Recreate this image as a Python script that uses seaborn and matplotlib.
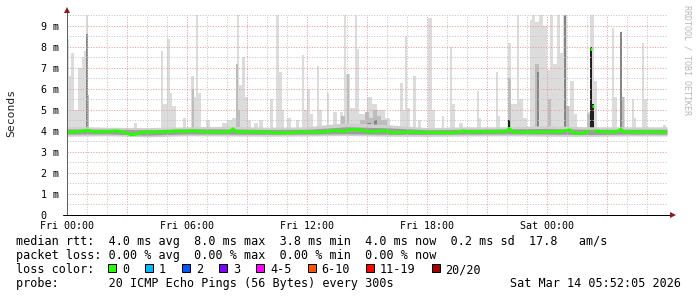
import matplotlib
matplotlib.use("Agg")
import matplotlib.pyplot as plt
from matplotlib.patches import Rectangle
from matplotlib.lines import Line2D
import numpy as np
import pandas as pd
import seaborn as sns

# ------------------------------------------------------------------ data
# median RTT (ms) against hours since Fri 00:00
median_h = [0.0, 0.3, 0.6, 0.9, 1.0, 1.3, 1.7, 2.0, 2.4, 2.7, 3.0, 3.2, 3.4, 3.6, 3.9,
            4.3, 4.7, 5.1, 5.5, 5.9, 6.3, 6.7, 7.1, 7.5, 7.9, 8.15, 8.3, 8.45, 8.8, 9.2,
            9.6, 10.0, 10.4, 10.8, 11.2, 11.6, 12.0, 12.4, 12.8, 13.2, 13.5, 13.8, 14.1,
            14.4, 14.7, 15.0, 15.3, 15.6, 15.9, 16.2, 16.6, 17.0, 17.4, 17.8, 18.2, 18.6,
            19.0, 19.4, 19.8, 20.2, 20.6, 21.0, 21.4, 21.8, 22.0, 22.1, 22.3, 22.7, 23.1,
            23.5, 23.9, 24.3, 24.7, 25.0, 25.15, 25.35, 25.6, 25.9, 26.1,
            26.4, 26.7, 27.1, 27.5, 27.7, 27.85, 28.2, 28.6, 29.0, 29.4, 29.8, 29.95]
median_ms = [3.93, 3.96, 3.97, 4.02, 4.03, 3.97, 3.96, 3.97, 4.00, 3.98, 3.90, 3.82, 3.84, 3.90, 3.95,
             3.95, 3.96, 3.97, 4.00, 3.98, 4.01, 3.97, 3.95, 3.94, 3.96, 3.97, 4.10, 3.97, 3.95, 3.96,
             3.95, 3.94, 3.92, 3.91, 3.92, 3.95, 3.95, 3.94, 3.96, 4.00, 4.02, 3.98, 4.05,
             4.07, 4.04, 3.98, 3.96, 4.00, 4.01, 3.93, 3.92, 3.94, 3.95, 3.93, 3.92, 3.93,
             3.91, 3.92, 4.00, 3.95, 3.97, 3.96, 3.98, 3.97, 4.00, 4.12, 3.95, 3.94, 3.94,
             3.96, 3.95, 3.97, 3.98, 4.03, 4.05, 3.90, 3.88, 3.92, 4.00,
             4.00, 3.97, 3.96, 3.97, 4.08, 3.96, 3.95, 3.95, 3.96, 3.95, 3.95, 3.95]
jump_h = [26.15, 26.25]
jump_ms = [7.9, 5.2]

# smoke: light (max ping) spikes  -> start hour, end hour, top (ms)
light_start = [0.00, 0.10, 0.20, 0.35, 0.55, 0.75, 0.85, 0.95, 1.05, 3.35, 4.70, 4.80, 5.00, 5.15,
               5.25, 5.80, 6.20, 6.35, 6.45, 6.55, 6.95, 7.75, 8.00, 8.25, 8.50, 8.60, 8.75, 8.90,
               9.05, 9.35, 9.60, 10.15, 10.45, 10.60, 10.75, 11.00, 11.45, 11.75, 11.85, 12.00,
               12.15, 12.50, 12.60, 13.00, 13.30, 13.65, 13.85, 13.95, 14.15, 14.40, 14.50, 14.60,
               15.00, 15.25, 15.50, 15.90, 16.65, 16.80, 16.90, 17.00, 17.30, 17.55, 18.05, 18.25,
               18.75, 19.15, 19.25, 19.60, 20.50, 20.60, 21.45, 21.55, 22.05, 22.20, 22.50, 22.60,
               22.80, 23.15, 23.25, 23.40, 23.60, 23.80, 24.00, 24.15, 24.30, 24.50, 24.65, 24.80,
               25.00, 25.15, 25.35, 26.00, 26.15, 26.35, 27.25, 27.35, 27.65, 27.75, 28.25, 28.35,
               28.75, 28.85, 29.80]
light_end = [0.10, 0.20, 0.35, 0.55, 0.75, 0.85, 0.95, 1.05, 1.12, 3.50, 4.80, 5.00, 5.15, 5.25,
             5.45, 5.95, 6.35, 6.45, 6.55, 6.70, 7.15, 8.00, 8.25, 8.50, 8.60, 8.75, 8.90, 9.05,
             9.20, 9.55, 9.80, 10.30, 10.60, 10.75, 10.85, 11.20, 11.60, 11.85, 12.00, 12.15,
             12.30, 12.60, 12.75, 13.10, 13.50, 13.80, 13.95, 14.15, 14.40, 14.50, 14.60, 15.00,
             15.25, 15.50, 15.90, 16.15, 16.80, 16.90, 17.00, 17.15, 17.45, 17.70, 18.25, 18.40,
             18.85, 19.25, 19.40, 19.80, 20.60, 20.70, 21.55, 21.65, 22.20, 22.50, 22.60, 22.80,
             23.00, 23.25, 23.40, 23.60, 23.80, 24.00, 24.15, 24.30, 24.50, 24.65, 24.80, 25.00,
             25.15, 25.35, 25.50, 26.15, 26.35, 26.50, 27.35, 27.50, 27.75, 27.90, 28.35, 28.45,
             28.85, 29.00, 29.95]
light_top = [8.4, 6.6, 7.7, 5.0, 7.0, 7.5, 7.8, 9.5, 5.7, 4.4, 7.8, 5.3, 8.4, 5.8,
             5.2, 4.6, 6.6, 5.6, 9.5, 5.8, 4.5, 4.4, 4.5, 4.6, 9.5, 6.2, 7.5, 5.6,
             4.5, 4.4, 4.5, 5.5, 9.5, 6.8, 5.0, 4.6, 4.5, 7.6, 5.0, 6.0,
             4.8, 7.1, 5.0, 5.8, 4.9, 4.9, 9.5, 6.7, 5.1, 9.5, 7.9, 4.8,
             5.6, 5.3, 5.0, 4.6, 6.3, 5.0, 8.5, 5.1, 6.6, 4.5, 9.4, 5.0,
             4.7, 8.0, 5.3, 4.4, 5.9, 4.6, 6.8, 4.7, 8.2, 5.3, 9.5, 5.5,
             4.6, 9.3, 9.5, 9.2, 9.5, 9.0, 6.9, 9.5, 7.2, 9.5, 7.7, 9.5,
             5.2, 6.4, 4.8, 4.9, 9.5, 6.4, 8.9, 5.6, 8.7, 5.6, 5.5, 4.6,
             8.2, 5.5, 4.3]

# smoke: medium layer
mid_start = [1.05, 6.25, 8.45, 8.55, 13.70, 13.98, 14.65, 14.90, 15.10, 15.30, 15.50, 15.70,
             22.05, 23.40, 24.05, 24.95, 26.00, 27.75]
mid_end = [1.12, 6.35, 8.55, 8.65, 13.90, 14.10, 14.90, 15.10, 15.30, 15.50, 15.70, 16.00,
           22.20, 23.60, 24.20, 25.10, 26.15, 27.85]
mid_top = [5.7, 6.0, 7.2, 5.0, 4.7, 6.7, 4.5, 4.9, 4.6, 5.0, 4.7, 4.5,
           6.5, 7.2, 5.5, 5.2, 4.8, 5.6]

# smoke: dark layer
dark_start = [0.95, 23.50, 24.85, 27.65, 15.00, 15.35]
dark_end = [1.05, 23.60, 24.95, 27.75, 15.20, 15.50]
dark_top = [8.6, 6.8, 9.5, 8.7, 4.4, 4.5]

# smoke: darkest layer
black_start = [26.15, 26.25, 22.05]
black_end = [26.25, 26.35, 22.15]
black_top = [8.0, 5.3, 4.5]

# smoke band around the median (every 2 hours)
band_h = [0, 2, 4, 6, 8, 10, 12, 14, 16, 18, 20, 22, 24, 26, 28, 30]
band_low = [3.75, 3.77, 3.72, 3.77, 3.76, 3.75, 3.76, 3.78, 3.75, 3.74, 3.76, 3.77, 3.75, 3.74, 3.76, 3.76]
band_high = [4.22, 4.18, 4.16, 4.2, 4.22, 4.18, 4.2, 4.4, 4.3, 4.16, 4.2, 4.2, 4.25, 4.2, 4.2, 4.2]
core_low = [3.85, 3.86, 3.8, 3.86, 3.85, 3.84, 3.85, 3.87, 3.84, 3.84, 3.85, 3.86, 3.85, 3.83, 3.85, 3.85]
core_high = [4.1, 4.08, 4.06, 4.1, 4.1, 4.07, 4.08, 4.2, 4.15, 4.06, 4.08, 4.1, 4.12, 4.08, 4.08, 4.08]

ytick_vals = [0, 1, 2, 3, 4, 5, 6, 7, 8, 9]
ytick_labels = ["0  ", "1 m", "2 m", "3 m", "4 m", "5 m", "6 m", "7 m", "8 m", "9 m"]
xtick_h = [0, 6, 12, 18, 24]
xtick_labels = ["Fri 00:00", "Fri 06:00", "Fri 12:00", "Fri 18:00", "Sat 00:00"]

loss_labels = ["0", "1", "2", "3", "4-5", "6-10", "11-19", "20/20"]
loss_colors = ["#26ff00", "#00b8ff", "#0059ff", "#7e00ff", "#ff00ff", "#ff5500", "#ff0000", "#a10000"]

line_rtt = "median rtt:  4.0 ms avg  8.0 ms max  3.8 ms min  4.0 ms now  0.2 ms sd  17.8   am/s"
line_loss = "packet loss: 0.00 % avg  0.00 % max  0.00 % min  0.00 % now"
line_probe = "probe:       20 ICMP Echo Pings (56 Bytes) every 300s"
stamp = "Sat Mar 14 05:52:05 2026"

# ------------------------------------------------------------------ style
sns.set_theme(style="white")
plt.rcParams['font.family'] = ['DejaVu Sans Mono', 'DejaVu Sans']

W, H = 697, 297
fig = plt.figure(figsize=(W / 100, H / 100), dpi=100)
fig.patch.set_facecolor("white")
L, R, T, B = 67, 667, 15, 215
ax = fig.add_axes([L / W, (H - B) / H, (R - L) / W, (B - T) / H])
ax.set_facecolor("white")
PX = 0.72  # one pixel in points

FLOOR = 3.9
LIGHT, MID, DARK, BLACK = "#dcdcdc", "#bdbdbd", "#858585", "#202020"


def smoke(starts, ends, tops, color):
    s = np.asarray(starts); e = np.asarray(ends); t = np.asarray(tops)
    ax.bar(s, t - FLOOR, width=e - s, bottom=FLOOR, align="edge",
           color=color, linewidth=0, zorder=1)


smoke(light_start, light_end, light_top, LIGHT)
ax.fill_between(band_h, band_low, band_high, color="#d0d0d0", linewidth=0, zorder=1.1)
smoke(mid_start, mid_end, mid_top, MID)
ax.fill_between(band_h, core_low, core_high, color="#9c9c9c", linewidth=0, zorder=1.2)
smoke(dark_start, dark_end, dark_top, DARK)
smoke(black_start, black_end, black_top, BLACK)

# median line (split at the jump so no vertical connector)
med = pd.DataFrame({"h": median_h, "ms": median_ms})
before = med[med.h < jump_h[0]]
after = med[med.h > jump_h[-1]]
for part in (before, after):
    sns.lineplot(data=part, x="h", y="ms", color=loss_colors[0], lw=3 * PX,
                 estimator=None, ax=ax, zorder=3)
ax.hlines(jump_ms, jump_h, np.asarray(jump_h) + 0.1, color=loss_colors[0], lw=3 * PX, zorder=3)

# axes ranges & grid
ax.set_xlim(0, 30)
ax.set_ylim(0, 9.52)
ax.set_xticks(np.arange(0, 30, 3))
ax.set_xticklabels([xtick_labels[xtick_h.index(v)] if v in xtick_h else "" for v in range(0, 30, 3)])
ax.set_xticks(np.arange(0, 30, 1), minor=True)
ax.set_yticks(ytick_vals)
ax.set_yticklabels(ytick_labels)
ax.set_yticks(np.arange(0.5, 9.6, 1.0), minor=True)
ax.set_xlabel("")
ax.set_ylabel("")

ax.set_axisbelow(False)
ax.grid(which="major", color="#e79a9a", linestyle=(0, (1, 1.6)), lw=PX)
ax.grid(which="minor", color="#c4c4c4", linestyle=(0, (1, 1.6)), lw=PX)

ax.tick_params(axis="both", which="major", direction="out", length=3 * PX,
               width=PX, color="#d07070", labelsize=7.2, labelcolor="black")
ax.tick_params(axis="x", which="major", pad=2)
ax.tick_params(axis="y", which="major", pad=3.5)
ax.tick_params(axis="both", which="minor", direction="out", length=2 * PX,
               width=PX, color="#bbbbbb")

for s in ["top", "right", "left", "bottom"]:
    ax.spines[s].set_visible(False)

# axis lines with arrows
ax.add_line(Line2D([0, 0], [0, 1.025], transform=ax.transAxes, color="#606060",
                   lw=PX, clip_on=False, zorder=4))
ax.add_line(Line2D([-4 / 600, 1.008], [0, 0], transform=ax.transAxes, color="black",
                   lw=PX, clip_on=False, zorder=4))
ax.plot([0], [1.027], marker="^", ms=4.5, color="#8b1a1a", transform=ax.transAxes,
        clip_on=False, zorder=5, markeredgewidth=0)
ax.plot([1.01], [0], marker=">", ms=4.5, color="#8b1a1a", transform=ax.transAxes,
        clip_on=False, zorder=5, markeredgewidth=0)

# labels
fig.text(11 / W, 1 - 113 / H, "Seconds", rotation=90, ha="center", va="center",
         fontsize=8.2, color="#222222")
fig.text(687 / W, 1 - 5 / H, "RRDTOOL / TOBI OETIKER", rotation=270, ha="center", va="top",
         fontsize=6, color="#b8b8b8")

FS = 8.5
rows = [244.5, 258.8, 273.1, 287.4]
fig.text(16 / W, 1 - rows[0] / H, line_rtt, fontsize=FS, ha="left", va="baseline", color="black")
fig.text(16 / W, 1 - rows[1] / H, line_loss, fontsize=FS, ha="left", va="baseline", color="black")
fig.text(16 / W, 1 - rows[2] / H, "loss color:", fontsize=FS, ha="left", va="baseline", color="black")
fig.text(16 / W, 1 - rows[3] / H, line_probe, fontsize=FS, ha="left", va="baseline", color="black")
fig.text(681 / W, 1 - rows[3] / H, stamp, fontsize=FS, ha="right", va="baseline", color="black")

CW = 7.1
x = 108.0
for lab, col in zip(loss_labels, loss_colors):
    fig.add_artist(Rectangle((x / W, 1 - 272 / H), 8 / W, 8 / H, transform=fig.transFigure,
                             facecolor=col, edgecolor="black", lw=PX))
    fig.text((x + 14) / W, 1 - rows[2] / H, lab, fontsize=FS, ha="left", va="baseline",
             color="black")
    x += 30 + CW * len(lab)

fig.savefig("out.png", dpi=100, facecolor="white")
